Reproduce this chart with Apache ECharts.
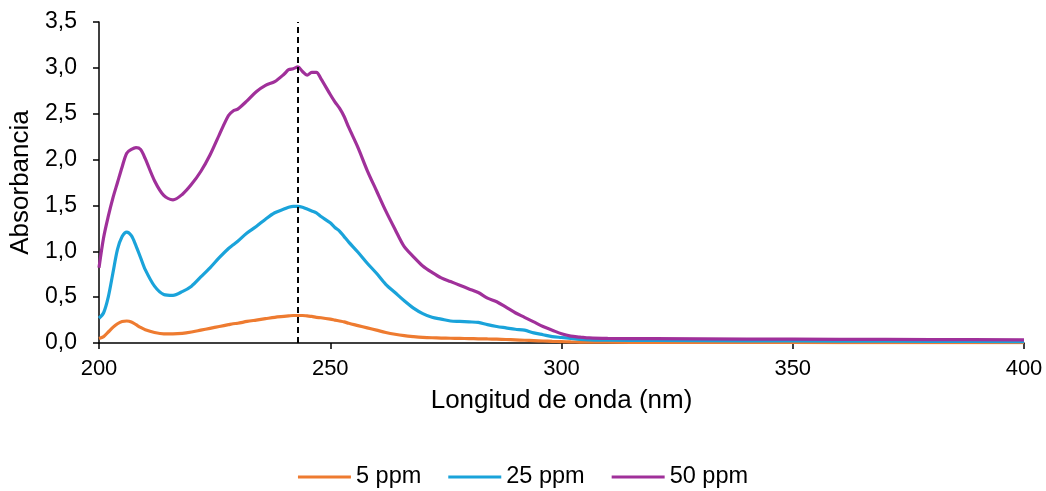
<!DOCTYPE html>
<html>
<head>
<meta charset="utf-8">
<script src="https://cdn.jsdelivr.net/npm/echarts@6/dist/echarts.min.js"></script>
<style>
  html, body { margin: 0; padding: 0; background: #fff; }
  #chart { width: 1046px; height: 491px; }
</style>
</head>
<body>
<div id="chart"></div>
<script>
// Wavelength grid (nm) shared by the three spectra
const wavelengths = [200,201,202,203,204,205,206,207,208,209,210,212,214,216,218,220,222,224,226,228,229,230,232,234,236,238,240,241,242,243,244,245,246,247,248,250,251,252,253,254,256,258,260,262,264,266,268,270,272,274,276,278,280,282,284,286,288,290,292,294,296,298,300,302,304,306,310,320,340,360,380,400];

// Absorbance, 5 ppm
const abs5 = [0.05,0.07,0.12,0.17,0.21,0.235,0.24,0.23,0.20,0.17,0.145,0.115,0.10,0.10,0.105,0.12,0.14,0.16,0.18,0.20,0.21,0.215,0.235,0.25,0.265,0.28,0.29,0.295,0.30,0.30,0.30,0.295,0.29,0.28,0.275,0.26,0.25,0.24,0.23,0.215,0.19,0.165,0.14,0.115,0.095,0.08,0.07,0.062,0.057,0.054,0.052,0.05,0.048,0.046,0.044,0.042,0.038,0.034,0.03,0.026,0.022,0.018,0.015,0.012,0.01,0.009,0.008,0.007,0.006,0.005,0.004,0.003];

// Absorbance, 25 ppm
const abs25 = [0.27,0.33,0.50,0.76,1.02,1.16,1.21,1.17,1.06,0.93,0.80,0.62,0.53,0.52,0.56,0.62,0.72,0.82,0.93,1.03,1.07,1.11,1.20,1.27,1.35,1.42,1.46,1.48,1.49,1.49,1.48,1.46,1.44,1.42,1.38,1.31,1.26,1.22,1.16,1.10,0.99,0.87,0.76,0.64,0.55,0.46,0.38,0.32,0.28,0.26,0.24,0.235,0.23,0.225,0.20,0.18,0.165,0.15,0.14,0.11,0.09,0.07,0.06,0.05,0.04,0.035,0.03,0.027,0.024,0.02,0.018,0.016];

// Absorbance, 50 ppm
const abs50 = [0.82,1.15,1.38,1.58,1.75,1.92,2.07,2.11,2.13,2.11,2.01,1.77,1.61,1.56,1.62,1.73,1.87,2.05,2.27,2.48,2.53,2.55,2.64,2.74,2.81,2.85,2.93,2.98,2.99,3.01,2.96,2.92,2.95,2.95,2.88,2.71,2.63,2.56,2.47,2.35,2.13,1.88,1.66,1.44,1.24,1.05,0.94,0.84,0.77,0.71,0.67,0.63,0.59,0.55,0.49,0.45,0.39,0.33,0.28,0.23,0.18,0.14,0.10,0.075,0.065,0.055,0.05,0.047,0.043,0.04,0.037,0.035];

// Wavelength of maximum absorbance, marked with a dashed line
const lambdaMax = 243;

const seriesNames = ['5 ppm', '25 ppm', '50 ppm'];
const seriesColors = ['#EE7B30', '#1AA3DA', '#A0309A'];
const seriesValues = [abs5, abs25, abs50];

const pairs = vals => wavelengths.map((w, i) => [w, vals[i]]);
const font = 'Liberation Sans, Arial, sans-serif';

const chart = echarts.init(document.getElementById('chart'));
chart.setOption({
  animation: false,
  grid: { left: 99, right: 22, top: 22, bottom: 148 },
  legend: {
    top: 465,
    left: 'center',
    icon: 'rect',
    itemWidth: 53,
    itemHeight: 3,
    itemGap: 27,
    padding: 0,
    textStyle: { fontFamily: font, fontSize: 23.5, color: '#000' },
    data: seriesNames
  },
  xAxis: {
    type: 'value',
    min: 200, max: 400, interval: 50,
    name: 'Longitud de onda (nm)',
    nameLocation: 'middle',
    nameGap: 45,
    nameTextStyle: { fontFamily: font, fontSize: 26, color: '#000' },
    axisLine: { onZero: false, lineStyle: { color: '#000', width: 1.5 } },
    axisTick: { show: true, length: 6, lineStyle: { color: '#000', width: 1.5 } },
    axisLabel: { fontFamily: font, fontSize: 22, color: '#000', margin: 15 },
    splitLine: { show: false }
  },
  yAxis: {
    type: 'value',
    min: 0, max: 3.5, interval: 0.5,
    name: 'Absorbancia',
    nameLocation: 'middle',
    nameGap: 63,
    nameTextStyle: { fontFamily: font, fontSize: 26, color: '#000' },
    axisLine: { show: true, lineStyle: { color: '#000', width: 1.5 } },
    axisTick: { show: true, length: 6, lineStyle: { color: '#000', width: 1.5 } },
    axisLabel: {
      fontFamily: font, fontSize: 23, color: '#000', margin: 22,
      formatter: v => v.toFixed(1).replace('.', ',')
    },
    splitLine: { show: false }
  },
  series: seriesNames.map((name, k) => ({
    name,
    type: 'line',
    data: pairs(seriesValues[k]),
    smooth: 0.3,
    showSymbol: false,
    symbol: 'none',
    color: seriesColors[k],
    lineStyle: { width: 3.2, color: seriesColors[k] },
    z: 2 + k,
    markLine: k === 2 ? {
      silent: true,
      symbol: 'none',
      label: { show: false },
      lineStyle: { color: '#000', type: [6, 4], width: 2 },
      data: [{ xAxis: lambdaMax }]
    } : undefined
  }))
});
</script>
</body>
</html>
